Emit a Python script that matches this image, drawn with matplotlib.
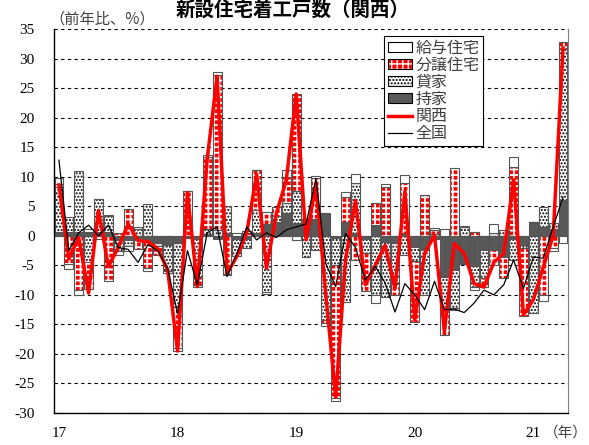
import numpy as np
import matplotlib
matplotlib.use('Agg')
import matplotlib.pyplot as plt
from matplotlib.patches import Patch
from matplotlib.lines import Line2D
from matplotlib.legend_handler import HandlerTuple

plt.rcParams['font.family'] = ['Liberation Serif', 'Noto Sans CJK JP']
plt.rcParams['axes.unicode_minus'] = False

# monthly, Jan 2017 - Apr 2021 (contributions, % points)
xtick_pos = [0, 12, 24, 36, 48]
xtick_labels = ['17', '18', '19', '20', '21']
yticks = list(range(-30, 36, 5))

own = [0.7, 0.7, 0.7, 0.7, 0.7, 0.7, -0.7, -0.7, -0.7, -1.0, -1.2, -1.5,
       -1.3, -0.3, -0.5, 0.3, -0.6, 0.5, -0.5, -0.5, 0.5, 2.0, 2.4, 3.8,
       2.1, 2.9, 2.9, 3.8, -0.3, 2.4, 0.5, -0.5, 1.8, -1.0, -1.2, 0.5,
       -1.9, -2.4, -0.5, -6.9, -5.8, -4.7, -5.2, -2.4, -2.4, -3.6, -0.5, -1.5,
       2.4, 1.5, 1.2, 6.0]
rent = [7.5, 2.5, 10.3, -4.5, 5.5, 2.6, -1.8, -1.0, 1.2, 5.3, -0.5, -4.5,
        -10.7, 0.0, -6.5, 0.8, 1.0, 4.6, -3.0, -1.5, 3.8, -9.5, 1.0, 1.7,
        5.4, -3.6, -2.4, -14.3, -4.7, -11.2, 8.5, -2.4, -10.0, -9.3, -7.0, -3.3,
        -2.3, -7.6, 0.3, -5.1, -6.5, 1.5, -3.4, -4.8, 0.4, 1.0, -3.6, -0.5,
        -13.1, 3.4, 1.0, 25.7]
sale = [0.5, -4.7, -9.2, -4.5, 0.0, -7.6, 0.5, 4.5, -1.5, -4.5, -1.5, 0.0,
        -7.0, 7.5, -1.3, 12.2, 26.3, -6.4, 0.0, 0.5, 6.8, 2.0, 1.5, 4.5,
        16.5, 0.0, 6.8, -0.5, -22.5, 4.2, -4.1, -6.5, 3.7, 8.2, -1.8, 8.4,
        -10.4, 6.9, 0.6, -4.8, 11.4, 0.0, 0.6, -1.4, -2.5, -3.6, 11.7, -11.6,
        0.0, -10.0, -2.0, 1.1]
emp = [1.0, -1.0, -0.8, 0.4, -0.5, 0.3, -0.8, -0.8, 0.3, -0.5, 0.0, -0.3,
       -0.5, 0.0, -0.3, 0.3, 0.5, -0.3, 0.4, 0.3, 0.0, -0.3, 0.0, 1.1,
       -0.7, 0.0, 0.5, -0.5, -0.5, 0.8, 1.4, 0.0, -1.4, 0.5, 0.0, 1.4,
       0.0, 0.0, 0.5, 1.1, -0.3, 0.2, -0.5, 0.0, 1.6, 0.0, 1.7, 0.0,
       0.0, -1.1, -0.5, -1.3]
kansai = [8.6, -3.9, -0.3, -9.7, 4.3, -5.2, -2.0, 2.0, -0.8, -1.0, -2.2, -5.8,
          -19.5, 7.3, -8.6, 13.0, 27.0, -6.4, -3.5, 0.5, 10.4, -5.5, 3.8, 9.4,
          24.0, -0.7, 8.7, -10.0, -27.3, -4.0, 6.0, -8.3, -5.0, -1.6, -8.9, 7.5,
          -14.3, -3.0, 0.1, -16.2, -1.3, -3.0, -8.1, -8.7, -4.5, -3.0, 9.5, -13.4,
          -10.8, -5.3, 0.0, 31.8]
zenkoku = [12.8, -2.5, 0.5, 1.8, 0.0, 1.8, -2.0, -2.3, -4.5, -1.5, -2.5, -5.5,
           -13.2, -2.5, -8.3, 0.5, 1.5, -6.9, -3.0, 1.5, -0.7, 0.5, -0.3, 1.0,
           1.5, 2.0, 9.7, -4.7, -8.6, 0.4, -2.0, -7.5, -5.2, -8.0, -12.9, -8.1,
           -10.0, -12.5, -7.7, -12.5, -12.4, -13.0, -11.4, -9.2, -10.0, -8.3, -4.1, -8.9,
           -3.6, -3.8, 1.5, 6.5]

x = np.arange(len(own))

fig = plt.figure(figsize=(5.89, 4.45), dpi=100)
ax = fig.add_axes([0.0917, 0.0719, 0.8726, 0.8629])

# stacked from zero outward: own, rent, sale, employer-issued
styles = [
    ('持家', own, '#595959', None, '#595959', 1.0),
    ('貸家', rent, 'white', '.....', 'black', 1.0),
    ('分譲住宅', sale, 'red', '+++', 'white', 1.3),
    ('給与住宅', emp, 'white', None, 'white', 1.0),
]
pos_base = np.zeros(len(x))
neg_base = np.zeros(len(x))
handles = {}
for name, vals, face, hatch, hcol, hlw in styles:
    v = np.array(vals)
    base = np.where(v >= 0, pos_base, neg_base)
    with plt.rc_context({'hatch.linewidth': hlw}):
        ax.bar(x, v, bottom=base, width=0.9, color=face, hatch=hatch,
               edgecolor=hcol, linewidth=0, zorder=2)
        p1 = Patch(facecolor=face, hatch=hatch, edgecolor=hcol, linewidth=0)
    ax.bar(x, v, bottom=base, width=0.9, fill=False, edgecolor='#555555',
           linewidth=0.8, zorder=2)
    p2 = Patch(fill=False, edgecolor='black', linewidth=0.8)
    handles[name] = (p1, p2)
    pos_base += np.clip(v, 0, None)
    neg_base += np.clip(v, None, 0)

ax.plot(x, kansai, color='red', linewidth=2.5, zorder=3)
ax.plot(x, zenkoku, color='black', linewidth=0.9, zorder=4)

ax.set_xlim(-0.5, len(x) - 0.5)
ax.set_ylim(-30, 35)
ax.set_yticks(yticks)
ax.set_yticklabels([str(t) for t in yticks])
ax.set_xticks(xtick_pos)
ax.set_xticklabels(xtick_labels)
ax.tick_params(axis='y', length=0, pad=14, labelsize=11)
ax.tick_params(axis='x', length=0, pad=10, labelsize=11)
ax.yaxis.grid(True, color='black', linestyle=(0, (3, 3)), linewidth=0.8)
ax.set_axisbelow(True)
ax.spines['top'].set_visible(False)
ax.spines['right'].set_color('#808080')
for s in ['left', 'bottom']:
    ax.spines[s].set_color('black')
    ax.spines[s].set_linewidth(1.0)

leg_handles = [handles['給与住宅'], handles['分譲住宅'], handles['貸家'], handles['持家'],
               Line2D([], [], color='red', linewidth=2.5),
               Line2D([], [], color='black', linewidth=0.9)]
leg_labels = ['給与住宅', '分譲住宅', '貸家', '持家', '関西', '全国']
leg = ax.legend(leg_handles, leg_labels, handler_map={tuple: HandlerTuple(ndivide=1, pad=0)},
                loc='upper left', bbox_to_anchor=(0.642, 0.982), borderaxespad=0,
                fancybox=False, edgecolor='black', framealpha=1,
                prop={'family': 'Noto Sans CJK JP', 'size': 11.5},
                labelspacing=0.0, handlelength=1.5, handleheight=0.55,
                handletextpad=0.2, borderpad=0.25)
leg.get_frame().set_linewidth(0.8)
for t in leg.get_texts():
    t.set_color('#404040')

fig.text(0.496, 0.999, '新設住宅着工戸数（関西）', ha='center', va='top',
         fontsize=14, fontweight='bold', family='Noto Sans CJK JP')
fig.text(0.083, 0.958, '（前年比、%）', ha='left', va='center', fontsize=11,
         family='Noto Sans CJK JP', color='#404040')
fig.text(0.998, 0.027, '（年）', ha='right', va='center', fontsize=10.5,
         family='Noto Sans CJK JP', color='#404040')

fig.savefig('out.png', dpi=100)
